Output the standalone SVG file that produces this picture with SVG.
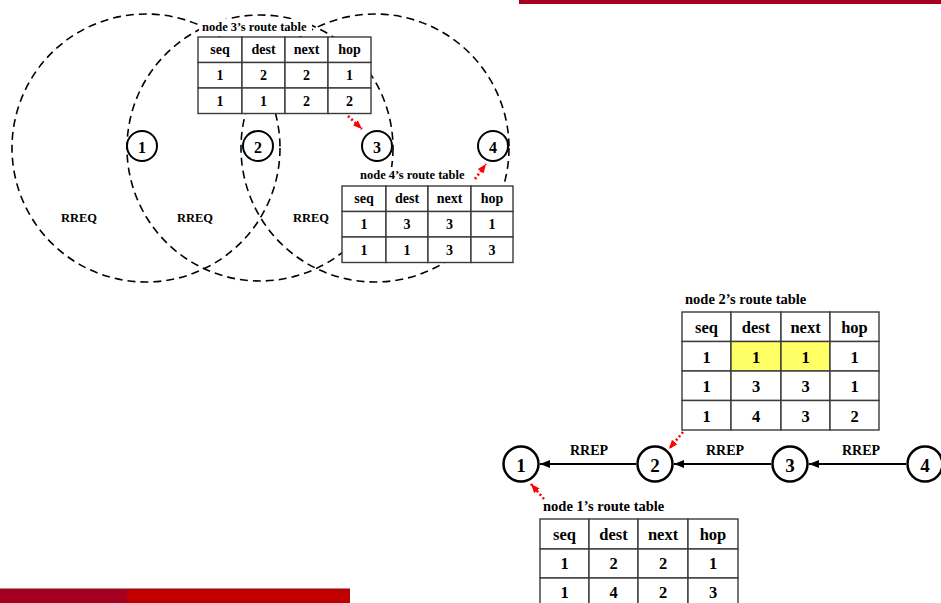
<svg xmlns="http://www.w3.org/2000/svg" width="941" height="603" viewBox="0 0 941 603">
  <style>
    .range { fill: none; stroke: #000; stroke-width: 1.6; stroke-dasharray: 8 5; }
    .node { fill: #fff; stroke: #000; }
    .num { font-family: "Liberation Serif", "Times New Roman", serif; font-weight: bold; text-anchor: middle; dominant-baseline: central; fill: #000; }
    .cell { fill: #fff; stroke: #3a3a3a; stroke-width: 1.4; }
    .hl { fill: #ffff66; stroke: #3a3a3a; stroke-width: 1.4; }
    .big { font-size: 16.5px; }
    .small { font-size: 14px; }
    .cap { font-family: "Liberation Serif", "Times New Roman", serif; font-weight: bold; fill: #000; }
    .msg { font-family: "Liberation Serif", "Times New Roman", serif; font-weight: bold; text-anchor: middle; fill: #000; }
    .link { stroke: #000; stroke-width: 2.2; fill: none; marker-end: url(#head); }
    .ptr { stroke: #ff0000; stroke-width: 2.6; stroke-dasharray: 2 2.5; fill: none; marker-end: url(#rhead); }
  </style>
  <defs>
    <marker id="head" viewBox="0 0 10 8" refX="10" refY="4" markerWidth="10" markerHeight="8" markerUnits="userSpaceOnUse" orient="auto">
      <path d="M0,0 L10,4 L0,8 Z" fill="#000"/>
    </marker>
    <marker id="rhead" viewBox="0 0 10 8" refX="10" refY="4" markerWidth="9" markerHeight="8" markerUnits="userSpaceOnUse" orient="auto">
      <path d="M0,0 L10,4 L0,8 Z" fill="#ff0000"/>
    </marker>
  </defs>

  <rect width="941" height="603" fill="#fff"/>

  <!-- slide bars -->
  <rect x="519" y="0" width="422" height="4" fill="#a50021"/>
  <rect x="0" y="589" width="127" height="14" fill="#a50021"/>
  <rect x="127" y="589" width="223" height="14" fill="#c00000"/>
  <rect x="0" y="588.5" width="350" height="1" fill="#8a0a1e"/>

  <!-- radio ranges of nodes 1, 2, 3 -->
  <g id="ranges">
    <circle class="range" cx="146" cy="148" r="134"/>
    <circle class="range" cx="260" cy="148" r="133"/>
    <circle class="range" cx="375" cy="148" r="134"/>
  </g>

  <g id="rreq-labels">
    <text class="msg" x="79" y="222" font-size="12.5">RREQ</text>
    <text class="msg" x="195" y="222" font-size="12.5">RREQ</text>
    <text class="msg" x="311" y="222" font-size="12.5">RREQ</text>
  </g>

  <!-- upper network nodes -->
  <g id="n1-top">
    <circle class="node" cx="142" cy="146" r="15" stroke-width="2"/>
    <text class="num" x="142" y="147" font-size="16">1</text>
  </g>
  <g id="n2-top">
    <circle class="node" cx="258" cy="146" r="15" stroke-width="2"/>
    <text class="num" x="258" y="147" font-size="16">2</text>
  </g>
  <g id="n3-top">
    <circle class="node" cx="377" cy="146" r="15" stroke-width="2"/>
    <text class="num" x="377" y="147" font-size="16">3</text>
  </g>
  <g id="n4-top">
    <circle class="node" cx="493" cy="146" r="15" stroke-width="2"/>
    <text class="num" x="493" y="147" font-size="16">4</text>
  </g>

  <!-- node 3's route table -->
  <g id="table-n3">
    <rect x="199" y="19" width="113" height="17" fill="#fff"/>
    <text class="cap" x="202" y="31" font-size="12.5">node 3’s route table</text>
    <rect class="cell" x="198" y="37" width="44" height="25.5"/>
    <rect class="cell" x="242" y="37" width="43" height="25.5"/>
    <rect class="cell" x="285" y="37" width="43" height="25.5"/>
    <rect class="cell" x="328" y="37" width="43" height="25.5"/>
    <rect class="cell" x="198" y="62.5" width="44" height="25.5"/>
    <rect class="cell" x="242" y="62.5" width="43" height="25.5"/>
    <rect class="cell" x="285" y="62.5" width="43" height="25.5"/>
    <rect class="cell" x="328" y="62.5" width="43" height="25.5"/>
    <rect class="cell" x="198" y="88" width="44" height="25.5"/>
    <rect class="cell" x="242" y="88" width="43" height="25.5"/>
    <rect class="cell" x="285" y="88" width="43" height="25.5"/>
    <rect class="cell" x="328" y="88" width="43" height="25.5"/>
    <g class="num small">
      <text x="220" y="49.5">seq</text><text x="263.5" y="49.5">dest</text><text x="306.5" y="49.5">next</text><text x="349.5" y="49.5">hop</text>
      <text x="220" y="75.5">1</text><text x="263.5" y="75.5">2</text><text x="306.5" y="75.5">2</text><text x="349.5" y="75.5">1</text>
      <text x="220" y="101">1</text><text x="263.5" y="101">1</text><text x="306.5" y="101">2</text><text x="349.5" y="101">2</text>
    </g>
  </g>

  <!-- node 4's route table -->
  <g id="table-n4">
    <rect x="358" y="167" width="114" height="16" fill="#fff"/>
    <text class="cap" x="360" y="179" font-size="12.5">node 4’s route table</text>
    <rect class="cell" x="342" y="186" width="44" height="25.5"/>
    <rect class="cell" x="386" y="186" width="42" height="25.5"/>
    <rect class="cell" x="428" y="186" width="43" height="25.5"/>
    <rect class="cell" x="471" y="186" width="42" height="25.5"/>
    <rect class="cell" x="342" y="211.5" width="44" height="25.5"/>
    <rect class="cell" x="386" y="211.5" width="42" height="25.5"/>
    <rect class="cell" x="428" y="211.5" width="43" height="25.5"/>
    <rect class="cell" x="471" y="211.5" width="42" height="25.5"/>
    <rect class="cell" x="342" y="237" width="44" height="25.5"/>
    <rect class="cell" x="386" y="237" width="42" height="25.5"/>
    <rect class="cell" x="428" y="237" width="43" height="25.5"/>
    <rect class="cell" x="471" y="237" width="42" height="25.5"/>
    <g class="num small">
      <text x="364" y="198.5">seq</text><text x="407" y="198.5">dest</text><text x="449.5" y="198.5">next</text><text x="492" y="198.5">hop</text>
      <text x="364" y="224.5">1</text><text x="407" y="224.5">3</text><text x="449.5" y="224.5">3</text><text x="492" y="224.5">1</text>
      <text x="364" y="250">1</text><text x="407" y="250">1</text><text x="449.5" y="250">3</text><text x="492" y="250">3</text>
    </g>
  </g>

  <!-- node 2's route table -->
  <g id="table-n2">
    <text class="cap" x="685" y="304" font-size="14.5">node 2’s route table</text>
    <rect class="cell" x="682" y="312" width="49" height="29.5"/>
    <rect class="cell" x="731" y="312" width="50" height="29.5"/>
    <rect class="cell" x="781" y="312" width="49" height="29.5"/>
    <rect class="cell" x="830" y="312" width="49" height="29.5"/>
    <rect class="cell" x="682" y="341.5" width="49" height="29.5"/>
    <rect class="hl" x="731" y="341.5" width="50" height="29.5"/>
    <rect class="hl" x="781" y="341.5" width="49" height="29.5"/>
    <rect class="cell" x="830" y="341.5" width="49" height="29.5"/>
    <rect class="cell" x="682" y="371" width="49" height="29.5"/>
    <rect class="cell" x="731" y="371" width="50" height="29.5"/>
    <rect class="cell" x="781" y="371" width="49" height="29.5"/>
    <rect class="cell" x="830" y="371" width="49" height="29.5"/>
    <rect class="cell" x="682" y="400.5" width="49" height="29.5"/>
    <rect class="cell" x="731" y="400.5" width="50" height="29.5"/>
    <rect class="cell" x="781" y="400.5" width="49" height="29.5"/>
    <rect class="cell" x="830" y="400.5" width="49" height="29.5"/>
    <g class="num big">
      <text x="706.5" y="327">seq</text><text x="756" y="327">dest</text><text x="805.5" y="327">next</text><text x="854.5" y="327">hop</text>
      <text x="706.5" y="357">1</text><text x="756" y="357">1</text><text x="805.5" y="357">1</text><text x="854.5" y="357">1</text>
      <text x="706.5" y="386.5">1</text><text x="756" y="386.5">3</text><text x="805.5" y="386.5">3</text><text x="854.5" y="386.5">1</text>
      <text x="706.5" y="416">1</text><text x="756" y="416">4</text><text x="805.5" y="416">3</text><text x="854.5" y="416">2</text>
    </g>
  </g>

  <!-- node 1's route table -->
  <g id="table-n1">
    <text class="cap" x="543" y="511" font-size="14.5">node 1’s route table</text>
    <rect class="cell" x="540" y="519" width="49" height="30"/>
    <rect class="cell" x="589" y="519" width="49" height="30"/>
    <rect class="cell" x="638" y="519" width="50" height="30"/>
    <rect class="cell" x="688" y="519" width="50" height="30"/>
    <rect class="cell" x="540" y="549" width="49" height="29"/>
    <rect class="cell" x="589" y="549" width="49" height="29"/>
    <rect class="cell" x="638" y="549" width="50" height="29"/>
    <rect class="cell" x="688" y="549" width="50" height="29"/>
    <rect class="cell" x="540" y="578" width="49" height="30"/>
    <rect class="cell" x="589" y="578" width="49" height="30"/>
    <rect class="cell" x="638" y="578" width="50" height="30"/>
    <rect class="cell" x="688" y="578" width="50" height="30"/>
    <g class="num big">
      <text x="564.5" y="534">seq</text><text x="613.5" y="534">dest</text><text x="663" y="534">next</text><text x="713" y="534">hop</text>
      <text x="564.5" y="563.5">1</text><text x="613.5" y="563.5">2</text><text x="663" y="563.5">2</text><text x="713" y="563.5">1</text>
      <text x="564.5" y="592.5">1</text><text x="613.5" y="592.5">4</text><text x="663" y="592.5">2</text><text x="713" y="592.5">3</text>
    </g>
  </g>

  <!-- lower chain nodes -->
  <g id="n1-chain">
    <circle class="node" cx="521" cy="464" r="17.5" stroke-width="2.5"/>
    <text class="num" x="521" y="465" font-size="19">1</text>
  </g>
  <g id="n2-chain">
    <circle class="node" cx="655" cy="464" r="17.5" stroke-width="2.5"/>
    <text class="num" x="655" y="465" font-size="19">2</text>
  </g>
  <g id="n3-chain">
    <circle class="node" cx="790" cy="464" r="17.5" stroke-width="2.5"/>
    <text class="num" x="790" y="465" font-size="19">3</text>
  </g>
  <g id="n4-chain">
    <circle class="node" cx="925" cy="464" r="17.5" stroke-width="2.5"/>
    <text class="num" x="925" y="465" font-size="19">4</text>
  </g>

  <!-- connectors -->
  <g id="connectors">
    <line class="link" x1="636" y1="464" x2="540" y2="464"/>
    <line class="link" x1="771" y1="464" x2="674" y2="464"/>
    <line class="link" x1="906" y1="464" x2="809" y2="464"/>
    <text class="msg" x="589" y="455" font-size="14">RREP</text>
    <text class="msg" x="725" y="455" font-size="14">RREP</text>
    <text class="msg" x="861" y="455" font-size="14">RREP</text>

    <path class="ptr" d="M348,116 L362,129"/>
    <path class="ptr" d="M475,179 L486,164"/>
    <path class="ptr" d="M683,432 L669,449"/>
    <path class="ptr" d="M544,499 L531,484"/>
  </g>
</svg>
